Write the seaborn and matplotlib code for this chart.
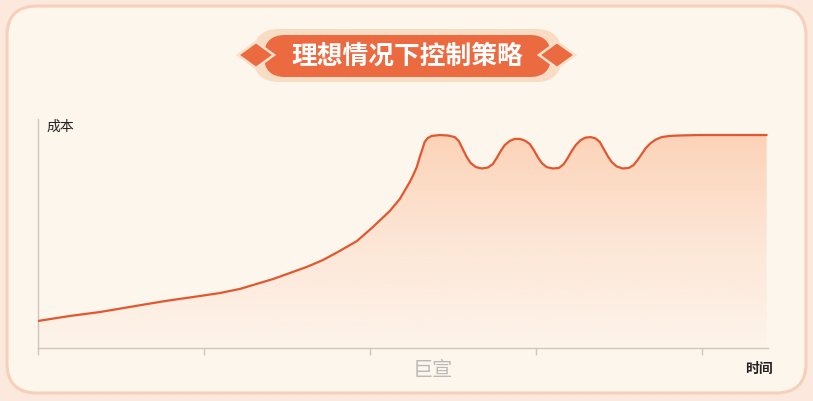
import numpy as np
import matplotlib
matplotlib.use("Agg")
import matplotlib.pyplot as plt
from matplotlib.patches import FancyBboxPatch, Polygon
from matplotlib.colors import LinearSegmentedColormap
import seaborn as sns

# curve (time in tick units, cost 0-100)
time_pts = [0.000, 0.193, 0.373, 0.584, 0.765, 0.976, 1.096, 1.217,
            1.416, 1.620, 1.717, 1.819, 1.922, 2.018, 2.120, 2.181, 2.241, 2.259,
            2.283, 2.301, 2.313, 2.331, 2.349, 2.373,
            2.422, 2.470, 2.512, 2.536, 2.560, 2.584, 2.608, 2.639, 2.675, 2.711,
            2.741, 2.765, 2.789, 2.813, 2.843, 2.873, 2.904, 2.934, 2.964, 2.988,
            3.012, 3.036, 3.066, 3.102, 3.139, 3.169, 3.193, 3.217, 3.241, 3.271,
            3.301, 3.331, 3.361, 3.386, 3.410, 3.434, 3.458, 3.488, 3.524, 3.560,
            3.590, 3.614, 3.639, 3.663, 3.693, 3.723, 3.759, 3.807, 3.867, 3.988,
            4.392]
cost_pts = [11.8, 14.0, 15.7, 18.3, 20.5, 22.7, 24.0, 25.8,
            30.1, 35.4, 38.4, 42.4, 46.7, 52.8, 59.8, 65.1, 72.5, 75.1,
            79.0, 83.4, 86.0, 90.0, 91.7, 92.6,
            93.0, 92.8, 92.1, 90.4, 86.9, 83.4, 80.8, 79.0, 78.4, 78.8,
            80.3, 83.0, 86.0, 88.6, 90.4, 91.3, 91.3, 90.6, 89.1, 86.5,
            83.4, 80.8, 79.0, 78.4, 78.6, 80.3, 83.0, 86.0, 88.6, 90.8,
            91.9, 92.1, 91.5, 90.0, 86.9, 83.8, 81.2, 79.3, 78.4, 78.6,
            79.9, 82.1, 84.7, 87.3, 89.5, 91.0, 92.1, 92.6, 92.8, 93.0,
            93.0]
x_ticks = [0, 1, 2, 3, 4]

title = "理想情况下控制策略"
y_label = "成本"
x_label = "时间"
mark = "巨宣"

sns.set_theme(style="white")
plt.rcParams["font.family"] = ["Noto Sans CJK SC", "DejaVu Sans"]

W, H = 813, 402
fig = plt.figure(figsize=(W / 100, H / 100), dpi=100, facecolor="#fce8dc")

# decoration layer in pixel coords
deco = fig.add_axes([0, 0, 1, 1], zorder=0)
deco.set_xlim(0, W)
deco.set_ylim(H, 0)
deco.axis("off")

card = FancyBboxPatch((7, 7), 799, 387, boxstyle="round,pad=0,rounding_size=30",
                      facecolor="#fdf6ec", edgecolor="#f6d0b9", linewidth=2.2)
deco.add_patch(card)

outer = FancyBboxPatch((253, 30), 309, 53, boxstyle="round,pad=0,rounding_size=26",
                       facecolor="#f9dcc4", edgecolor="none")
deco.add_patch(outer)
inner = FancyBboxPatch((264, 36), 287, 42, boxstyle="round,pad=0,rounding_size=21",
                       facecolor="#ec6a40", edgecolor="none")
deco.add_patch(inner)
for cx in (256, 557):
    deco.add_patch(Polygon([(cx - 18, 56), (cx, 43), (cx + 18, 56), (cx, 69)],
                           closed=True, facecolor="#ec6a40",
                           edgecolor="#fae1cc", linewidth=1.8))
deco.text(407, 56, title, color="white", fontsize=18.5, fontweight="bold",
          ha="center", va="center")

deco.text(46, 127, y_label, color="#222222", fontsize=10, ha="left", va="center")
deco.text(759, 369, x_label, color="#222222", fontsize=10, fontweight="bold",
          ha="center", va="center")
deco.text(433, 371, mark, color="#b9b9b9", fontsize=14.5, ha="center", va="center")

# main chart
ax = fig.add_axes([38 / W, (H - 349) / H, 730 / W, 229 / H], zorder=1)
ax.set_facecolor("none")

poly = ax.fill_between(time_pts, cost_pts, 0, facecolor="none", linewidth=0)
cmap = LinearSegmentedColormap.from_list("fade", ["#fdf4ea", "#fde6d6", "#fcd3b8"])
grad = np.linspace(0, 1, 256).reshape(-1, 1)
im = ax.imshow(grad, extent=[0, 4.4, 0, 93], origin="lower", aspect="auto",
               cmap=cmap, zorder=1)
im.set_clip_path(poly.get_paths()[0], transform=ax.transData)

sns.lineplot(x=time_pts, y=cost_pts, ax=ax, color="#e2572f", linewidth=1.6,
             sort=False, zorder=3, solid_joinstyle="round", solid_capstyle="round")

ax.set_xlim(0, 4.4)
ax.set_ylim(0, 100)
ax.set_xticks(x_ticks)
ax.set_yticks([])
ax.tick_params(axis="x", direction="out", length=5, width=1, color="#cfc6bd",
               labelbottom=False, bottom=True)
for side in ("top", "right"):
    ax.spines[side].set_visible(False)
for side in ("left", "bottom"):
    ax.spines[side].set_color("#cfc6bd")
    ax.spines[side].set_linewidth(1)
ax.set_xlabel("")
ax.set_ylabel("")

fig.savefig("out.png", dpi=100, facecolor=fig.get_facecolor())
